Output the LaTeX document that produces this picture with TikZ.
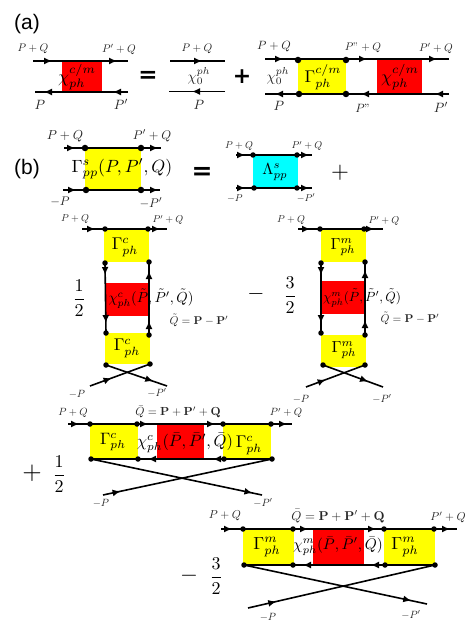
\documentclass[tikz,border=0pt]{standalone}
\usepackage[no-math]{fontspec}
\usepackage{amsmath}
\usetikzlibrary{arrows.meta,decorations.markings}
\newfontfamily\labelsans{Liberation Sans}
\newfontfamily\heavysym{DejaVu Sans Bold}
\definecolor{boxyellow}{RGB}{255,255,0}
\definecolor{boxred}{RGB}{255,0,0}
\definecolor{boxcyan}{RGB}{0,255,255}
\tikzset{
  line/.style={line width=1.6pt,black},
  tipat/.style={postaction={decorate,decoration={markings,mark=at position #1 with {\arrow{Latex[length=8pt,width=7pt]}}}}},
  dot/.style={circle,fill=black,inner sep=0pt,minimum size=6.5pt},
  smalldot/.style={circle,fill=black,inner sep=0pt,minimum size=5.5pt},
  lab/.style={inner sep=0pt,text=black!85,scale=#1},
  yel/.style={fill=boxyellow,draw=none},
  redbox/.style={fill=boxred,draw=none},
  cyanbox/.style={fill=boxcyan,draw=none},
  boldsym/.style={inner sep=0pt,font=\heavysym\fontsize{#1}{#1}\selectfont},
  mathtext/.style={inner sep=0pt,scale=#1},
  panel/.style={inner sep=0pt,font=\labelsans\fontsize{21}{24}\selectfont}
}
\begin{document}
\begin{tikzpicture}[x=1pt,y=-1pt]
\useasboundingbox (0,0) rectangle (471,628);
\fill[white] (0,0) rectangle (471,628);

% ---------- fills
\fill[redbox] (62,61) rectangle (102,92);
\fill[yel] (298,60) rectangle (346,94);
\fill[redbox] (377,60) rectangle (422,94);
\fill[yel] (85,148) rectangle (141,190);
\fill[cyanbox] (253,155) rectangle (298,188);
\fill[yel] (104,229) rectangle (149,262);
\fill[redbox] (106,283) rectangle (149,316);
\fill[yel] (105,333) rectangle (150,364);
\fill[yel] (321,229) rectangle (366,262);
\fill[redbox] (322,281) rectangle (364,314);
\fill[yel] (321,335) rectangle (366,367);
\fill[yel] (90,424) rectangle (138,459);
\fill[redbox] (157,424) rectangle (204,459);
\fill[yel] (223,424) rectangle (271,459);
\fill[yel] (243,529) rectangle (294,566);
\fill[redbox] (313,529) rectangle (364,566);
\fill[yel] (384,529) rectangle (435,566);

% ---------- free ends
\coordinate (a1tl) at (33,61);   \coordinate (a1tr) at (128,61);
\coordinate (a1bl) at (35,92);   \coordinate (a1br) at (128,92);
\coordinate (a2tl) at (170,61);  \coordinate (a2tr) at (225,61);
\coordinate (a2bl) at (169,91.5);\coordinate (a2br) at (225,91.5);
\coordinate (a3tl) at (265,59);  \coordinate (a3tr) at (449,59);
\coordinate (a3bl) at (265,94);  \coordinate (a3br) at (449,94);
\coordinate (b0tl) at (64,148);  \coordinate (b0tr) at (161,148);
\coordinate (b0bl) at (63,190);  \coordinate (b0br) at (160,190);
\coordinate (b1tl) at (236,155); \coordinate (b1tr) at (312,155);
\coordinate (b1bl) at (236,188); \coordinate (b1br) at (312,188);
\coordinate (c1tl) at (82,229);  \coordinate (c1tr) at (167,229);
\coordinate (c1bl) at (90,386);  \coordinate (c1br) at (167,386);
\coordinate (c2tl) at (298,229); \coordinate (c2tr) at (383,229);
\coordinate (c2bl) at (306,387); \coordinate (c2br) at (383,387);
\coordinate (h1tl) at (68,424);  \coordinate (h1tr) at (292,424);
\coordinate (h1bl) at (103,495); \coordinate (h1br) at (262,495);
\coordinate (h2tl) at (221,529); \coordinate (h2tr) at (457,529);
\coordinate (h2bl) at (248,608); \coordinate (h2br) at (427,604);

% ---------- vertices
\node[dot] (a3a) at (298,60) {}; \node[dot] (a3b) at (346,60) {};
\node[dot] (a3c) at (299,94) {}; \node[dot] (a3d) at (346,94) {};
\node[dot] (b0a) at (85,148) {}; \node[dot] (b0b) at (141,148) {};
\node[dot] (b0c) at (86,190) {}; \node[dot] (b0d) at (141,190) {};
\node[smalldot] (b1a) at (253,155) {}; \node[smalldot] (b1b) at (297,155) {};
\node[smalldot] (b1c) at (254,188) {}; \node[smalldot] (b1d) at (297,188) {};
\node[smalldot] (c1a) at (105,229) {}; \node[smalldot] (c1b) at (148,229) {};
\node[smalldot] (c1c) at (105,263) {}; \node[smalldot] (c1d) at (149,262) {};
\node[smalldot] (c1e) at (106,333) {}; \node[smalldot] (c1f) at (149,335) {};
\node[smalldot] (c1g) at (106,365) {}; \node[smalldot] (c1h) at (150,364) {};
\node[smalldot] (c2a) at (320,229) {}; \node[smalldot] (c2b) at (364,229) {};
\node[smalldot] (c2c) at (321,263) {}; \node[smalldot] (c2d) at (365,262) {};
\node[smalldot] (c2e) at (321,333) {}; \node[smalldot] (c2f) at (365,335) {};
\node[smalldot] (c2g) at (323,365) {}; \node[smalldot] (c2h) at (365,365) {};
\node[smalldot] (h1a) at (90,424) {};  \node[smalldot] (h1b) at (137,424) {};
\node[smalldot] (h1c) at (223,424) {}; \node[smalldot] (h1d) at (271,424) {};
\node[smalldot] (h1e) at (91,459) {};  \node[smalldot] (h1f) at (138,459) {};
\node[smalldot] (h1g) at (224,459) {}; \node[smalldot] (h1h) at (272,459) {};
\node[smalldot] (h2a) at (243,529) {}; \node[smalldot] (h2b) at (293,529) {};
\node[smalldot] (h2c) at (384,529) {}; \node[smalldot] (h2d) at (434,529) {};
\node[smalldot] (h2e) at (244,565) {}; \node[smalldot] (h2f) at (293,565) {};
\node[smalldot] (h2g) at (385,565) {}; \node[smalldot] (h2h) at (435,565) {};

% ---------- connectors
\draw[line,tipat=19pt,tipat=84pt] (a1tl) -- (a1tr);
\draw[line,tipat=15pt,tipat=84pt] (a1br) -- (a1bl);
\draw[line,tipat=32pt] (a2tl) -- (a2tr);
\draw[line,tipat=33pt] (a2br) -- (a2bl);
\draw[line,tipat=18pt,tipat=102pt,tipat=172pt] (a3tl) -- (a3tr);
\draw[line,tipat=14pt,tipat=88pt,tipat=174pt] (a3br) -- (a3bl);
\draw[line,tipat=11pt,tipat=94pt] (b0tl) -- (b0tr);
\draw[line,tipat=13pt,tipat=95pt] (b0bl) -- (b0br);
\draw[line,tipat=9pt,tipat=73pt] (b1tl) -- (b1tr);
\draw[line,tipat=9pt,tipat=73pt] (b1bl) -- (b1br);
\draw[line,tipat=13pt,tipat=78pt] (c1tl) -- (c1tr);
\draw[line,tipat=12pt,tipat=60pt] (c1c.center) -- (c1e.center);
\draw[line,tipat=14pt,tipat=64pt] (c1f.center) -- (c1d.center);
\draw[line,tipat=50pt] (c1g.center) -- (c1br);
\draw[line,tipat=23pt] (c1bl) -- (c1h.center);
\draw[line,tipat=12pt,tipat=76pt] (c2tl) -- (c2tr);
\draw[line,tipat=12pt,tipat=60pt] (c2c.center) -- (c2e.center);
\draw[line,tipat=15pt,tipat=65pt] (c2f.center) -- (c2d.center);
\draw[line,tipat=48pt] (c2g.center) -- (c2br);
\draw[line,tipat=21pt] (c2bl) -- (c2h.center);
\draw[line,tipat=11pt,tipat=80pt,tipat=147pt,tipat=219pt] (h1tl) -- (h1tr);
\draw[line,tipat=59pt,tipat=124pt] (h1h.center) -- (h1e.center);
\draw[line,tipat=165pt] (h1e.center) -- (h1br);
\draw[line,tipat=18pt] (h1bl) -- (h1h.center);
\draw[line,tipat=11pt,tipat=87pt,tipat=155pt,tipat=229pt] (h2tl) -- (h2tr);
\draw[line,tipat=64pt,tipat=132pt] (h2h.center) -- (h2e.center);
\draw[line,tipat=171pt] (h2e.center) -- (h2br);
\draw[line,tipat=29pt] (h2bl) -- (h2h.center);

% ---------- panel (a)
\node[panel] (pa) at (27,24) {(a)};
\node[lab=1.1] (t1) at (33,49) {$P+Q$};
\node[lab=1.1] (t2) at (119,49) {$P'+Q$};
\node[lab=1.35] (t3) at (40,105) {$P$};
\node[lab=1.35] (t4) at (121,104) {$P'$};
\node[mathtext=1.75] (t5) at (77,77) {$\chi_{ph}^{c/m}$};
\node[boldsym=23] (e1) at (148,77) {=};
\node[lab=1.1] (t6) at (197,49) {$P+Q$};
\node[lab=1.45] (t7) at (199,76) {$\chi_0^{ph}$};
\node[lab=1.35] (t8) at (199,105) {$P$};
\node[boldsym=22] (e2) at (242,77) {+};
\node[lab=1.2] (t9) at (274,47) {$P+Q$};
\node[lab=1.1] (t10) at (363,48) {$P"+Q$};
\node[lab=1.1] (t11) at (436,48) {$P'+Q$};
\node[lab=1.45] (t12) at (278,76) {$\chi_0^{ph}$};
\node[mathtext=1.7] (t13) at (323,77) {$\Gamma_{ph}^{c/m}$};
\node[mathtext=1.75] (t14) at (400,77) {$\chi_{ph}^{c/m}$};
\node[lab=1.35] (t15) at (279,106) {$P$};
\node[lab=1.2] (t16) at (363,108) {$P"$};
\node[lab=1.35] (t17) at (441,107) {$P'$};

% ---------- panel (b), first line
\node[panel] (pb) at (27,169) {(b)};
\node[lab=1.3] (t20) at (65,136) {$P+Q$};
\node[lab=1.25] (t21) at (152,136) {$P'+Q$};
\node[lab=1.25] (t22) at (60,202) {$-P$};
\node[lab=1.25] (t23) at (151,203) {$-P'$};
\node[mathtext=1.77] (t24) at (122,169) {$\Gamma_{pp}^{s}(P,P',Q)$};
\node[boldsym=25] (e3) at (202,173) {=};
\node[lab=1.0] (t25) at (239,146) {$P+Q$};
\node[lab=1.0] (t26) at (307,146) {$P'+Q$};
\node[lab=1.0] (t27) at (235,198) {$-P$};
\node[lab=1.0] (t28) at (306,198) {$-P'$};
\node[mathtext=1.6] (t29) at (275,172) {$\Lambda_{pp}^{s}$};
\node[mathtext=2.3] (e4) at (340,173) {$+$};

% ---------- left vertical ladder
\node[lab=1.0] (t30) at (75,219) {$P+Q$};
\node[lab=1.0] (t31) at (168,220) {$P'+Q$};
\node[mathtext=1.7] (t32) at (125,247) {$\Gamma_{ph}^{c}$};
\node[mathtext=1.7] (t33) at (127,348) {$\Gamma_{ph}^{c}$};
\node[mathtext=1.45] (t34) at (151,299) {$\chi_{ph}^{c}(\tilde P,\tilde P',\tilde Q)$};
\node[lab=1.13] (t35) at (199,320) {$\tilde Q=\mathbf{P}-\mathbf{P}'$};
\node[mathtext=1.8] (t36) at (79,298) {$\dfrac{1}{2}$};
\node[lab=1.05] (t37) at (77,394) {$-P$};
\node[lab=1.05] (t38) at (157,393) {$-P'$};

% ---------- right vertical ladder
\node[lab=1.0] (t40) at (291,220) {$P+Q$};
\node[lab=1.0] (t41) at (384,221) {$P'+Q$};
\node[mathtext=1.6] (t42) at (343,247) {$\Gamma_{ph}^{m}$};
\node[mathtext=1.6] (t43) at (344,350) {$\Gamma_{ph}^{m}$};
\node[mathtext=1.33] (t44) at (362,298) {$\chi_{ph}^{m}(\tilde P,\tilde P',\tilde Q)$};
\node[lab=1.13] (t45) at (410,318) {$\tilde Q=\mathbf{P}-\mathbf{P}'$};
\node[mathtext=2.2] (t46) at (256,294) {$-$};
\node[mathtext=1.8] (t47) at (290,295) {$\dfrac{3}{2}$};
\node[lab=1.05] (t48) at (301,399) {$-P$};
\node[lab=1.05] (t49) at (382,399) {$-P'$};

% ---------- first horizontal ladder
\node[lab=1.05] (t50) at (73,413) {$P+Q$};
\node[lab=1.17] (t51) at (178,412) {$\bar Q=\mathbf{P}+\mathbf{P}'+\mathbf{Q}$};
\node[lab=1.05] (t52) at (286,413) {$P'+Q$};
\node[mathtext=1.65] (t53) at (113,442) {$\Gamma_{ph}^{c}$};
\node[mathtext=1.64] (t54) at (185,443) {$\chi_{ph}^{c}(\bar P,\bar P',\bar Q)$};
\node[mathtext=1.7] (t55) at (249,445) {$\Gamma_{ph}^{c}$};
\node[mathtext=2.5] (t56) at (32,473) {$+$};
\node[mathtext=1.8] (t57) at (59,474) {$\dfrac{1}{2}$};
\node[lab=1.05] (t58) at (101,503) {$-P$};
\node[lab=1.05] (t59) at (263,503) {$-P'$};

% ---------- second horizontal ladder
\node[lab=1.15] (t60) at (225,516) {$P+Q$};
\node[lab=1.28] (t61) at (338,516) {$\bar Q=\mathbf{P}+\mathbf{P}'+\mathbf{Q}$};
\node[lab=1.15] (t62) at (448,517) {$P'+Q$};
\node[mathtext=1.75] (t63) at (267,547) {$\Gamma_{ph}^{m}$};
\node[mathtext=1.53] (t64) at (338,546) {$\chi_{ph}^{m}(\bar P,\bar P',\bar Q)$};
\node[mathtext=1.75] (t65) at (405,547) {$\Gamma_{ph}^{m}$};
\node[mathtext=2.3] (t66) at (189,576) {$-$};
\node[mathtext=1.8] (t67) at (216,576) {$\dfrac{3}{2}$};
\node[lab=1.05] (t68) at (268,617) {$-P$};
\node[lab=1.05] (t69) at (411,615) {$-P'$};
\end{tikzpicture}
\end{document}
